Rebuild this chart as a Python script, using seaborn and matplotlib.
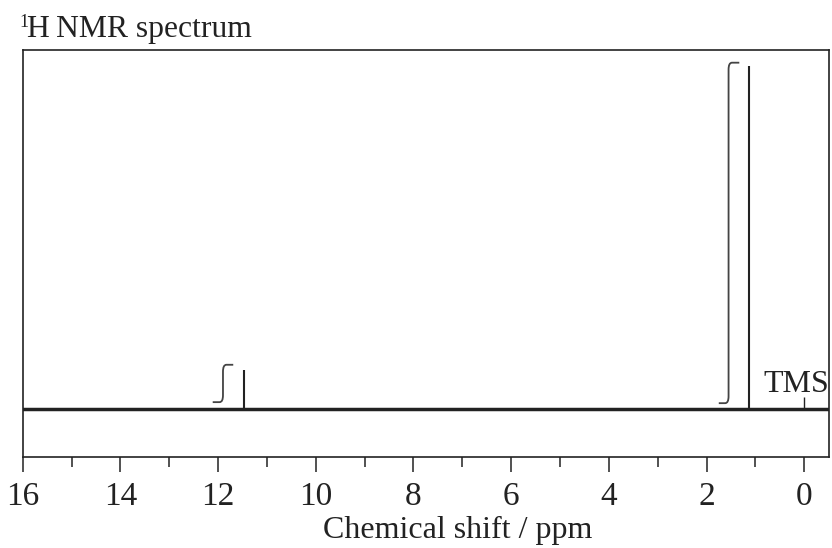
import matplotlib
matplotlib.use("Agg")
import matplotlib.pyplot as plt
from matplotlib.path import Path
from matplotlib.patches import PathPatch
import seaborn as sns
import pandas as pd

# ---- data ----
peak_ppm = [11.47, 1.13]
peak_height = [0.114, 1.0]
tms_ppm = 0.0
tms_height = 0.035
# integral traces: start ppm (left, bottom), riser ppm, end ppm (right, top), bottom, top
integral_start = [12.11, 1.75]
integral_riser = [11.90, 1.55]
integral_end = [11.69, 1.33]
integral_bottom = [0.020, 0.017]
integral_top = [0.129, 1.010]
xticks_major = [16, 14, 12, 10, 8, 6, 4, 2, 0]
xticks_minor = [15, 13, 11, 9, 7, 5, 3, 1]

sns.set_theme(style="white")
plt.rcParams['font.family'] = ['Liberation Serif', 'DejaVu Serif']

fig = plt.figure(figsize=(8.32, 5.48), dpi=100)
ax = fig.add_axes([22.7/832, 1-457/548, (828.7-22.7)/832, (457-50)/548])

df = pd.DataFrame({"ppm": peak_ppm, "h": peak_height})
ax.vlines(df["ppm"], 0, df["h"], color="#222222", lw=1.5)
ax.vlines([tms_ppm], 0, [tms_height], color="#222222", lw=1.0)
sns.lineplot(x=[16.5, -1.0], y=[0, 0], ax=ax, color="#222222", lw=2.5)

for x0, xr, x1, b, t in zip(integral_start, integral_riser, integral_end,
                            integral_bottom, integral_top):
    rx = 0.07
    ry = 0.02
    verts = [(x0, b), (xr + rx, b), (xr, b), (xr, b + ry),
             (xr, t - ry), (xr, t), (xr - rx, t), (x1, t)]
    codes = [Path.MOVETO, Path.LINETO, Path.CURVE3, Path.CURVE3,
             Path.LINETO, Path.CURVE3, Path.CURVE3, Path.LINETO]
    ax.add_patch(PathPatch(Path(verts, codes), fill=False, ec="#444444", lw=1.3))

ax.text(0.17, 0.05, "TMS", ha="center", va="baseline", fontsize=23, color="#222222")

ax.set_xlim(16, -0.5)
ax.set_ylim(-0.140, 1.047)
ax.set_xticks(xticks_major)
ax.set_xticks(xticks_minor, minor=True)
ax.set_xticklabels([str(v) for v in xticks_major], fontsize=24, color="#222222")
ax.set_yticks([])
ax.tick_params(axis="x", which="major", direction="out", length=10.8, width=1.1,
               color="#222222", pad=7, bottom=True)
ax.tick_params(axis="x", which="minor", direction="out", length=7.2, width=1.1,
               color="#222222", bottom=True)
for s in ax.spines.values():
    s.set_visible(True)
    s.set_color("#222222")
    s.set_linewidth(1.2)
xl = ax.set_xlabel("Chemical shift / ppm", fontsize=23, color="#222222")
xl.set_verticalalignment("baseline")
ax.xaxis.set_label_coords(458/832, 1-538/548, transform=fig.transFigure)

fig.text(19/832, 1-27/548, "1", fontsize=13, color="#222222", va="baseline")
fig.text(27/832, 1-37/548, "H\u2009NMR spectrum", fontsize=22.8, color="#222222", va="baseline")

fig.savefig("out.png", dpi=100)
